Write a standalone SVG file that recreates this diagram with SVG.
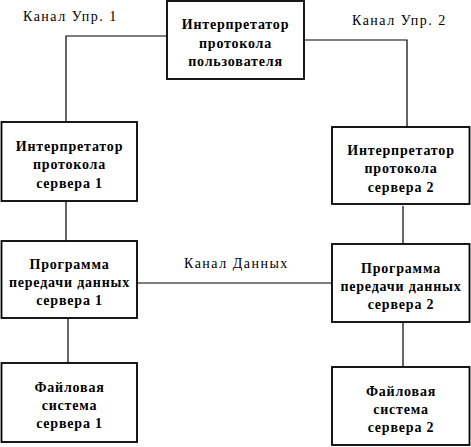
<svg xmlns="http://www.w3.org/2000/svg" width="471" height="447" viewBox="0 0 471 447">
<style>
.box{fill:#fff;stroke:#000;stroke-width:1.8}
.t{font-family:"Liberation Serif","Times New Roman",serif;font-size:14px;font-weight:bold;text-anchor:middle;fill:#000;letter-spacing:0.8px}
.lbl{font-family:"Liberation Serif","Times New Roman",serif;font-size:14px;fill:#000;letter-spacing:1.5px}
.c{fill:none;stroke:#000;stroke-width:1.2}
</style>
<rect width="471" height="447" fill="#fff"/>
<g id="connectors">
<polyline class="c" points="167,36 66,36 66,122"/>
<polyline class="c" points="304,40 407,40 407,127"/>
<line class="c" x1="66" y1="201" x2="66" y2="241"/>
<line class="c" x1="403" y1="206" x2="403" y2="244"/>
<line class="c" x1="137" y1="283" x2="332" y2="283"/>
<line class="c" x1="68" y1="318" x2="68" y2="363"/>
<line class="c" x1="403" y1="322" x2="403" y2="367"/>
</g>
<g id="labels">
<text class="lbl" x="23" y="21">Канал Упр. 1</text>
<text class="lbl" x="352" y="25">Канал Упр. 2</text>
<text class="lbl" x="184" y="268">Канал Данных</text>
</g>
<g id="user_pi">
<rect class="box" x="167" y="1" width="137" height="78"/>
<text class="t" x="235.5" y="29">Интерпретатор</text>
<text class="t" x="235.5" y="47.5">протокола</text>
<text class="t" x="235.5" y="66">пользователя</text>
</g>
<g id="server1_pi">
<rect class="box" x="1.5" y="122" width="135.5" height="79"/>
<text class="t" x="69.5" y="151">Интерпретатор</text>
<text class="t" x="69.5" y="169">протокола</text>
<text class="t" x="69.5" y="187.5">сервера 1</text>
</g>
<g id="server2_pi">
<rect class="box" x="332" y="127" width="137.5" height="77"/>
<text class="t" x="401" y="155">Интерпретатор</text>
<text class="t" x="401" y="173">протокола</text>
<text class="t" x="401" y="191.5">сервера 2</text>
</g>
<g id="server1_dtp">
<rect class="box" x="1.5" y="241" width="135.5" height="77"/>
<text class="t" x="69.5" y="269">Программа</text>
<text class="t" x="69.5" y="287">передачи данных</text>
<text class="t" x="69.5" y="304.5">сервера 1</text>
</g>
<g id="server2_dtp">
<rect class="box" x="332" y="244" width="137.5" height="78"/>
<text class="t" x="401" y="273">Программа</text>
<text class="t" x="401" y="291">передачи данных</text>
<text class="t" x="401" y="308.5">сервера 2</text>
</g>
<g id="server1_fs">
<rect class="box" x="1.5" y="363" width="135.5" height="79"/>
<text class="t" x="69.5" y="392">Файловая</text>
<text class="t" x="69.5" y="410">система</text>
<text class="t" x="69.5" y="428">сервера 1</text>
</g>
<g id="server2_fs">
<rect class="box" x="332" y="367" width="137.5" height="78"/>
<text class="t" x="401" y="396">Файловая</text>
<text class="t" x="401" y="414">система</text>
<text class="t" x="401" y="432">сервера 2</text>
</g>
</svg>
